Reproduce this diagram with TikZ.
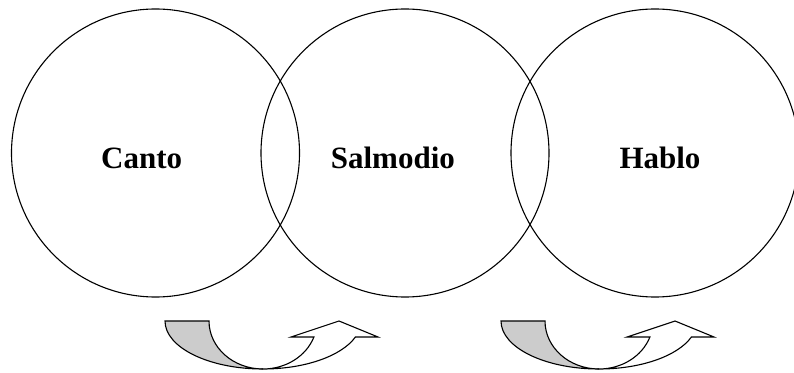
\documentclass[tikz,border=0pt]{standalone}
\usepackage{fontspec}
\setmainfont{Liberation Serif}
\begin{document}
\begin{tikzpicture}[x=1pt,y=1pt,
    ring/.style={draw, circle, line width=1.1pt, minimum size=288pt, inner sep=0pt},
    word/.style={anchor=base, font=\fontsize{31}{36}\selectfont\bfseries},
    turnback/.style={draw, line width=1.1pt, fill=gray!40},
    turnfront/.style={draw, line width=1.1pt, fill=white, line join=miter}]
    \useasboundingbox (0,0) rectangle (794,372);
    \node[ring] (cantoring) at (155.5,219) {};
    \node[ring] (salmodioring) at (405,219) {};
    \node[ring] (habloring) at (655,219) {};
    \node[word] (canto) at (141.7,203.7) {Canto};
    \node[word] (salmodio) at (392.9,203.7) {Salmodio};
    \node[word] (hablo) at (660,203.7) {Hablo};
    % curved up arrows below the overlaps
    \foreach \cx in {263,599} {
      \draw[turnback] (\cx-98,51) -- (\cx-54,51)
        arc[start angle=180, end angle=270, x radius=54pt, y radius=48pt]
        arc[start angle=270, end angle=180, x radius=98pt, y radius=48pt] -- cycle;
      \draw[turnfront] (\cx,3)
        arc[start angle=270, end angle=340.53, x radius=54pt, y radius=48pt]
        -- (\cx+28,35) -- (\cx+76,51) -- (\cx+115,35) -- (\cx+92.4,35)
        arc[start angle=340.53, end angle=270, x radius=98pt, y radius=48pt] -- cycle;
    }
  \end{tikzpicture}
\end{document}
